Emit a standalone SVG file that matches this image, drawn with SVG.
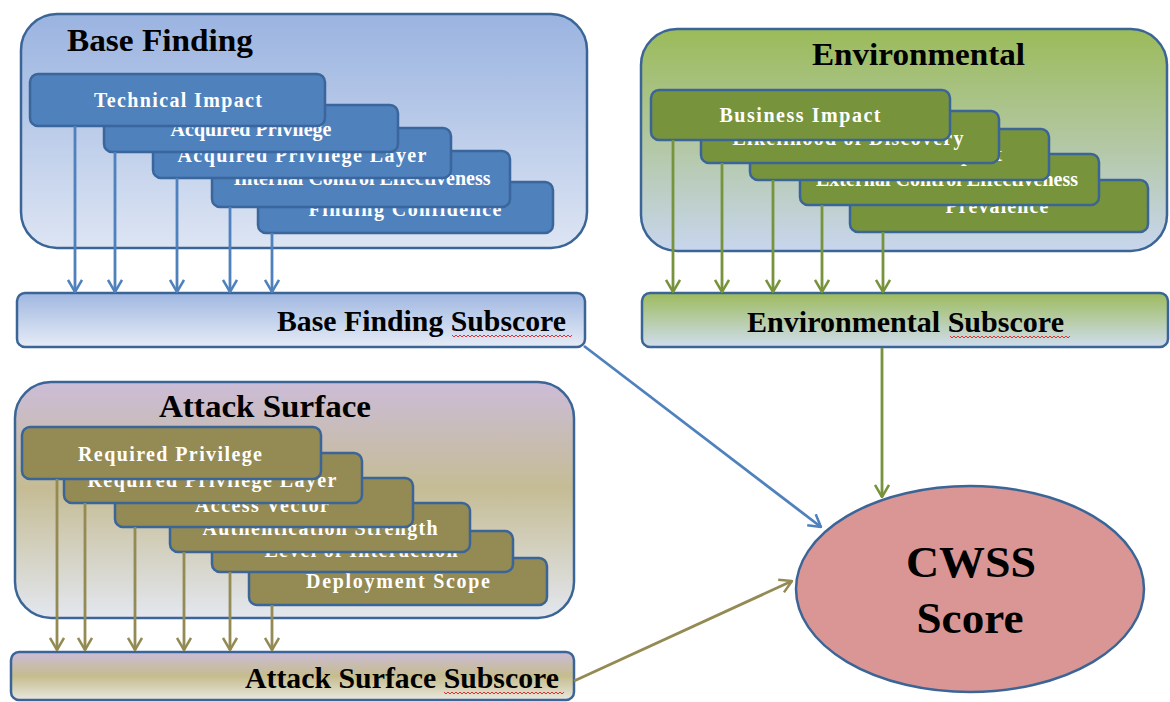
<svg xmlns="http://www.w3.org/2000/svg" width="1170" height="702" viewBox="0 0 1170 702">
<defs>
<linearGradient id="gBase" x1="0" y1="0" x2="0" y2="1"><stop offset="0" stop-color="#9AB3E0"/><stop offset="1" stop-color="#DDE5F3"/></linearGradient>
<linearGradient id="gEnv" x1="0" y1="0" x2="0" y2="1"><stop offset="0" stop-color="#9BBB59"/><stop offset="0.5" stop-color="#B2C7A1"/><stop offset="1" stop-color="#C8D6EE"/></linearGradient>
<linearGradient id="gAtk" x1="0" y1="0" x2="0" y2="1"><stop offset="0" stop-color="#CCBCD8"/><stop offset="0.45" stop-color="#C5BC95"/><stop offset="1" stop-color="#E3E7EF"/></linearGradient>
<linearGradient id="sBase" x1="0" y1="0" x2="0" y2="1"><stop offset="0" stop-color="#A0B7E1"/><stop offset="1" stop-color="#E6ECF6"/></linearGradient>
<linearGradient id="sEnv" x1="0" y1="0" x2="0" y2="1"><stop offset="0" stop-color="#9DBB5D"/><stop offset="1" stop-color="#D0DDEF"/></linearGradient>
<linearGradient id="sAtk" x1="0" y1="0" x2="0" y2="1"><stop offset="0" stop-color="#CCBCD8"/><stop offset="0.5" stop-color="#C6BC8E"/><stop offset="1" stop-color="#E8E8DF"/></linearGradient>
<marker id="aBlue" viewBox="0 0 14 16" refX="13" refY="8" markerWidth="14" markerHeight="16" markerUnits="userSpaceOnUse" orient="auto"><path d="M1,1 L13,8 L1,15" fill="none" stroke="#4F81BD" stroke-width="2.5"/></marker>
<marker id="aGreen" viewBox="0 0 14 16" refX="13" refY="8" markerWidth="14" markerHeight="16" markerUnits="userSpaceOnUse" orient="auto"><path d="M1,1 L13,8 L1,15" fill="none" stroke="#77933C" stroke-width="2.5"/></marker>
<marker id="aOlive" viewBox="0 0 14 16" refX="13" refY="8" markerWidth="14" markerHeight="16" markerUnits="userSpaceOnUse" orient="auto"><path d="M1,1 L13,8 L1,15" fill="none" stroke="#948A54" stroke-width="2.5"/></marker>
</defs>
<style>
.cont{stroke:#3B6597;stroke-width:2.5}
.sub{stroke:#3B6597;stroke-width:2.5}
.bb{fill:#4F81BD;stroke:#3A669B;stroke-width:2.5}
.gb{fill:#77933C;stroke:#3B6597;stroke-width:2.5}
.ob{fill:#948A54;stroke:#3B6597;stroke-width:2.5}
.title{font-size:32px;fill:#000;font-weight:bold}
.subt{font-size:29.5px;fill:#000;font-weight:bold}
.bt{font-size:20px;fill:#fff;text-anchor:middle;font-weight:bold}
.score{font-size:45px;fill:#000;text-anchor:middle;font-weight:bold}
.squig{fill:none;stroke:#E03030;stroke-width:1}
.cb{fill:none;stroke:#4F81BD;stroke-width:2.8}
.cg{fill:none;stroke:#77933C;stroke-width:2.8}
.co{fill:none;stroke:#948A54;stroke-width:2.8}
</style>

<g id="base-finding" font-family="Liberation Serif, DejaVu Serif, serif">
<rect class="cont" x="21" y="14" width="566" height="234" rx="36" fill="url(#gBase)"/>
<text class="title" x="67" y="51" textLength="186" lengthAdjust="spacingAndGlyphs">Base Finding</text>
<rect class="bb" x="258" y="182" width="295" height="51" rx="8"/>
<text class="bt" x="405" y="216" textLength="193">Finding Confidence</text>
<rect class="bb" x="212" y="151" width="298" height="56" rx="8"/>
<text class="bt" x="362" y="185" textLength="257">Internal Control Effectiveness</text>
<rect class="bb" x="153" y="128" width="298" height="50" rx="8"/>
<text class="bt" x="302" y="162" textLength="249">Acquired Privilege Layer</text>
<rect class="bb" x="104" y="105" width="294" height="47" rx="8"/>
<text class="bt" x="251" y="136" textLength="161">Acquired Privilege</text>
<rect class="bb" x="30" y="74" width="295" height="52" rx="8"/>
<text class="bt" x="178" y="107" textLength="168">Technical Impact</text>
</g>

<g id="base-finding-subscore" font-family="Liberation Serif, DejaVu Serif, serif">
<rect class="sub" x="17" y="293" width="568" height="54" rx="8" fill="url(#sBase)"/>
<text class="subt" x="277" y="331" textLength="289" lengthAdjust="spacingAndGlyphs">Base Finding Subscore</text>
<path class="squig" d="M452,335 l2,2 l2,-2 l2,2 l2,-2 l2,2 l2,-2 l2,2 l2,-2 l2,2 l2,-2 l2,2 l2,-2 l2,2 l2,-2 l2,2 l2,-2 l2,2 l2,-2 l2,2 l2,-2 l2,2 l2,-2 l2,2 l2,-2 l2,2 l2,-2 l2,2 l2,-2 l2,2 l2,-2 l2,2 l2,-2 l2,2 l2,-2 l2,2 l2,-2 l2,2 l2,-2 l2,2 l2,-2 l2,2 l2,-2 l2,2 l2,-2 l2,2 l2,-2 l2,2 l2,-2 l2,2 l2,-2 l2,2 l2,-2 l2,2 l2,-2 l2,2 l2,-2 l2,2 l2,-2 l2,2 l2,-2"/>
</g>

<g id="environmental" font-family="Liberation Serif, DejaVu Serif, serif">
<rect class="cont" x="641" y="29" width="526" height="222" rx="36" fill="url(#gEnv)"/>
<text class="title" x="812" y="65" textLength="213" lengthAdjust="spacingAndGlyphs">Environmental</text>
<rect class="gb" x="850" y="180" width="298" height="52" rx="8"/>
<text class="bt" x="997" y="213" textLength="103">Prevalence</text>
<rect class="gb" x="800" y="154" width="299" height="51" rx="8"/>
<text class="bt" x="947" y="186" textLength="262">External Control Effectiveness</text>
<rect class="gb" x="750" y="129" width="299" height="51" rx="8"/>
<text class="bt" x="906" y="161" textLength="192">Likelihood of Exploit</text>
<rect class="gb" x="701" y="111" width="298" height="52" rx="8"/>
<text class="bt" x="848" y="145" textLength="231">Likelihood of Discovery</text>
<rect class="gb" x="651" y="90" width="299" height="50" rx="8"/>
<text class="bt" x="800" y="122" textLength="161">Business Impact</text>
</g>

<g id="environmental-subscore" font-family="Liberation Serif, DejaVu Serif, serif">
<rect class="sub" x="642" y="293" width="526" height="54" rx="8" fill="url(#sEnv)"/>
<text class="subt" x="747" y="332" textLength="317" lengthAdjust="spacingAndGlyphs">Environmental Subscore</text>
<path class="squig" d="M950,336 l2,2 l2,-2 l2,2 l2,-2 l2,2 l2,-2 l2,2 l2,-2 l2,2 l2,-2 l2,2 l2,-2 l2,2 l2,-2 l2,2 l2,-2 l2,2 l2,-2 l2,2 l2,-2 l2,2 l2,-2 l2,2 l2,-2 l2,2 l2,-2 l2,2 l2,-2 l2,2 l2,-2 l2,2 l2,-2 l2,2 l2,-2 l2,2 l2,-2 l2,2 l2,-2 l2,2 l2,-2 l2,2 l2,-2 l2,2 l2,-2 l2,2 l2,-2 l2,2 l2,-2 l2,2 l2,-2 l2,2 l2,-2 l2,2 l2,-2 l2,2 l2,-2 l2,2 l2,-2 l2,2 l2,-2"/>
</g>

<g id="attack-surface" font-family="Liberation Serif, DejaVu Serif, serif">
<rect class="cont" x="15" y="382" width="559" height="236" rx="36" fill="url(#gAtk)"/>
<text class="title" x="159" y="417" textLength="212" lengthAdjust="spacingAndGlyphs">Attack Surface</text>
<rect class="ob" x="249" y="558" width="298" height="47" rx="8"/>
<text class="bt" x="398" y="588" textLength="184">Deployment Scope</text>
<rect class="ob" x="212" y="531" width="301" height="41" rx="8"/>
<text class="bt" x="361" y="557" textLength="193">Level of Interaction</text>
<rect class="ob" x="170" y="503" width="300" height="49" rx="8"/>
<text class="bt" x="320" y="535" textLength="235">Authentication Strength</text>
<rect class="ob" x="115" y="478" width="298" height="49" rx="8"/>
<text class="bt" x="262" y="512" textLength="134">Access Vector</text>
<rect class="ob" x="64" y="453" width="298" height="50" rx="8"/>
<text class="bt" x="212" y="487" textLength="249">Required Privilege Layer</text>
<rect class="ob" x="22" y="427" width="299" height="52" rx="8"/>
<text class="bt" x="170" y="461" textLength="184">Required Privilege</text>
</g>

<g id="attack-surface-subscore" font-family="Liberation Serif, DejaVu Serif, serif">
<rect class="sub" x="11" y="652" width="563" height="48" rx="8" fill="url(#sAtk)"/>
<text class="subt" x="245" y="688" textLength="314" lengthAdjust="spacingAndGlyphs">Attack Surface Subscore</text>
<path class="squig" d="M444,692 l2,2 l2,-2 l2,2 l2,-2 l2,2 l2,-2 l2,2 l2,-2 l2,2 l2,-2 l2,2 l2,-2 l2,2 l2,-2 l2,2 l2,-2 l2,2 l2,-2 l2,2 l2,-2 l2,2 l2,-2 l2,2 l2,-2 l2,2 l2,-2 l2,2 l2,-2 l2,2 l2,-2 l2,2 l2,-2 l2,2 l2,-2 l2,2 l2,-2 l2,2 l2,-2 l2,2 l2,-2 l2,2 l2,-2 l2,2 l2,-2 l2,2 l2,-2 l2,2 l2,-2 l2,2 l2,-2 l2,2 l2,-2 l2,2 l2,-2 l2,2 l2,-2 l2,2 l2,-2 l2,2 l2,-2"/>
</g>

<g id="cwss-score" font-family="Liberation Serif, DejaVu Serif, serif">
<ellipse cx="970" cy="589" rx="174" ry="103" fill="#D99694" stroke="#3B6597" stroke-width="2.5"/>
<text class="score" x="971" y="577" textLength="130" lengthAdjust="spacingAndGlyphs">CWSS</text>
<text class="score" x="970" y="633" textLength="107" lengthAdjust="spacingAndGlyphs">Score</text>
</g>

<g id="connectors">
<line class="cb" x1="75" y1="126" x2="75" y2="292" marker-end="url(#aBlue)"/>
<line class="cb" x1="115" y1="152" x2="115" y2="292" marker-end="url(#aBlue)"/>
<line class="cb" x1="177" y1="178" x2="177" y2="292" marker-end="url(#aBlue)"/>
<line class="cb" x1="230" y1="207" x2="230" y2="292" marker-end="url(#aBlue)"/>
<line class="cb" x1="272" y1="233" x2="272" y2="292" marker-end="url(#aBlue)"/>
<line class="cg" x1="673" y1="140" x2="673" y2="292" marker-end="url(#aGreen)"/>
<line class="cg" x1="722" y1="163" x2="722" y2="292" marker-end="url(#aGreen)"/>
<line class="cg" x1="773" y1="180" x2="773" y2="292" marker-end="url(#aGreen)"/>
<line class="cg" x1="822" y1="205" x2="822" y2="292" marker-end="url(#aGreen)"/>
<line class="cg" x1="883" y1="232" x2="883" y2="292" marker-end="url(#aGreen)"/>
<line class="co" x1="57" y1="479" x2="57" y2="650" marker-end="url(#aOlive)"/>
<line class="co" x1="85" y1="503" x2="85" y2="650" marker-end="url(#aOlive)"/>
<line class="co" x1="135" y1="527" x2="135" y2="650" marker-end="url(#aOlive)"/>
<line class="co" x1="184" y1="552" x2="184" y2="650" marker-end="url(#aOlive)"/>
<line class="co" x1="230" y1="572" x2="230" y2="650" marker-end="url(#aOlive)"/>
<line class="co" x1="272" y1="605" x2="272" y2="650" marker-end="url(#aOlive)"/>
<line class="cb" x1="584" y1="346" x2="821" y2="527" marker-end="url(#aBlue)"/>
<line class="cg" x1="882" y1="348" x2="882" y2="497" marker-end="url(#aGreen)"/>
<line class="co" x1="574" y1="681" x2="792" y2="581" marker-end="url(#aOlive)"/>
</g>
</svg>
